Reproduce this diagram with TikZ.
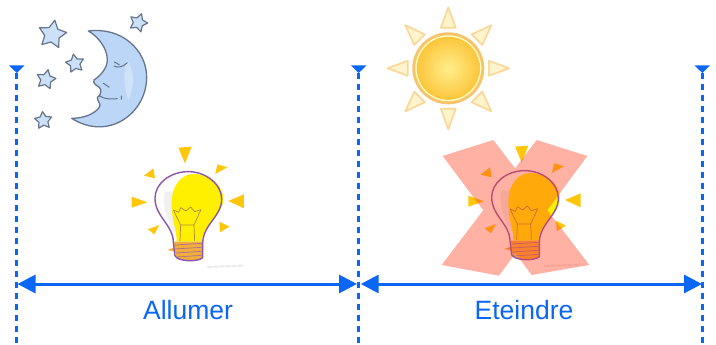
\documentclass[tikz,border=0pt]{standalone}
\usepackage{fontspec}
\setmainfont{Liberation Sans}
\usetikzlibrary{arrows.meta,shapes.geometric}
\definecolor{guide}{HTML}{0A66F5}
\definecolor{moonfill}{HTML}{BBD6F6}
\definecolor{moonedge}{HTML}{66758C}
\definecolor{rayyellow}{HTML}{FFC60A}
\definecolor{bulbyellow}{HTML}{FFF000}
\definecolor{bulbedge}{HTML}{8D55AE}
\definecolor{baseorange}{HTML}{F2AE3C}
\definecolor{filament}{HTML}{B08A40}
\definecolor{crossred}{HTML}{FF3F1C}
\definecolor{sunray}{HTML}{FFF4CC}
\definecolor{sunedge}{HTML}{FBD695}
\definecolor{sunring}{HTML}{F9C36B}
\definecolor{suncore}{HTML}{FFEE8C}
\definecolor{sunrim}{HTML}{FCC63C}
\tikzset{
  guideline/.style={guide,line width=2.7pt,dash pattern=on 6pt off 5pt},
  guidetop/.style={fill=guide,draw=none},
  span/.style={guide,line width=3pt,{Triangle[length=18pt,width=18pt]}-{Triangle[length=18pt,width=18pt]}},
  spanlabel/.style={text=guide,font=\fontsize{26.5pt}{30pt}\selectfont,inner sep=0pt},
  starnode/.style={star,star points=5,star point ratio=1.9,draw=moonedge,line width=1.2pt,line join=round,fill=moonfill!75!white,inner sep=0pt},
  ray/.style={fill=rayyellow,draw=none},
  sunrayshape/.style={fill=sunray,draw=sunedge,line width=1.6pt,line join=round}
}
\newcommand{\drawlightbulb}{%
  \fill[ray] (175,38) -- (215,35) -- (195,85) -- cycle;
  \fill[ray] (292,88) -- (322,97) -- (286,117) -- cycle;
  \fill[ray] (372,178) -- (372,220) -- (325,198) -- cycle;
  \fill[ray] (298,260) -- (328,275) -- (300,292) -- cycle;
  \fill[ray] (84,283) -- (118,270) -- (103,298) -- cycle;
  \fill[ray] (35,185) -- (82,202) -- (35,218) -- cycle;
  \fill[ray] (100,100) -- (105,130) -- (72,122) -- cycle;
  \fill[black!6] (135,170) .. controls (125,200) and (140,250) .. (160,290) -- (170,290) -- (160,170) -- cycle;
  \fill[bulbyellow] (170,320) .. controls (170,280) and (155,260) .. (155,205)
     .. controls (155,150) and (185,115) .. (225,117)
     .. controls (280,120) and (312,160) .. (310,195)
     .. controls (305,245) and (250,265) .. (245,320) -- cycle;
  \fill[baseorange] (160,320) -- (250,320) -- (248,368) -- (220,378) -- (172,372) -- (165,350) -- (142,345) -- (162,338) -- cycle;
  \draw[filament,line width=.7pt,line join=round]
     (160,225) -- (176,232) -- (182,218) -- (198,228) -- (212,216) -- (224,230) -- (243,224)
     (160,225) -- (182,270) -- (180,318)
     (243,224) -- (222,270) -- (224,318)
     (182,270) -- (222,270);
  \draw[bulbedge!70!baseorange,line width=.7pt,line join=round]
     (165,330) -- (245,325) (165,342) -- (245,337) (168,354) -- (245,349) (172,366) -- (245,361);
  \draw[bulbedge,line width=1.4pt,line join=round]
     (160,322) .. controls (160,270) and (105,245) .. (105,190)
     .. controls (105,145) and (150,112) .. (200,110)
     .. controls (260,108) and (305,150) .. (305,192)
     .. controls (305,245) and (252,265) .. (248,322)
     (160,322) -- (165,362) .. controls (172,380) and (235,382) .. (248,368) -- (248,322);
  \draw[black!8,line width=2pt,dash pattern=on 5pt off 1pt] (262,396) -- (372,392);
}
\begin{document}
\begin{tikzpicture}[x=1pt,y=-1pt]
\useasboundingbox (0,0) rectangle (716,345);
\fill[white] (0,0) rectangle (716,345);

% guides
\coordinate (t1) at (16.8,73); \coordinate (b1) at (16.8,345);
\coordinate (t2) at (358.7,73); \coordinate (b2) at (358.7,345);
\coordinate (t3) at (702.3,73); \coordinate (b3) at (702.3,345);
\foreach \g in {1,2,3}{
  \draw[guideline] (t\g) -- (b\g);
  \fill[guidetop] (t\g) -- ++(-7.7,-7.5) -- ++(15.4,0) -- cycle;
}

% spans
\coordinate (a1) at (17.5,284); \coordinate (a2) at (357,284);
\coordinate (a3) at (360.7,284); \coordinate (a4) at (702,284);
\draw[span] (a1) -- (a2);
\draw[span] (a3) -- (a4);
\node[spanlabel] (allumer) at (188,310) {Allumer};
\node[spanlabel] (eteindre) at (524,310) {Eteindre};

% moon
\begin{scope}[shift={(20,0)},x=.3333pt,y=-.3333pt]
  \path[fill=moonfill,draw=moonedge,line width=1.3pt,line join=round]
    (205,93) .. controls (305,80) and (380,150) .. (380,232)
    .. controls (380,340) and (265,425) .. (155,355)
    .. controls (195,355) and (225,340) .. (238,322)
    .. controls (245,312) and (232,305) .. (232,292)
    .. controls (245,285) and (245,268) .. (238,262)
    .. controls (228,255) and (218,250) .. (222,240)
    .. controls (240,228) and (262,205) .. (262,180)
    .. controls (262,145) and (235,110) .. (205,93) -- cycle;
  \fill[white,opacity=.3] (320,180) .. controls (345,210) and (345,260) .. (325,300) .. controls (310,260) and (310,210) .. (320,180) -- cycle;
  \draw[moonedge,line width=1pt,line cap=round]
    (282,198) .. controls (295,205) and (310,200) .. (322,188)
    (283,186) -- (298,194)
    (250,250) .. controls (258,256) and (264,258) .. (268,262)
    (238,288) .. controls (255,298) and (275,298) .. (292,296)
    (304,288) -- (304,298);
\end{scope}

% stars
\node[starnode,minimum size=29pt,rotate=-10] (s1) at (52.3,34.5) {};
\node[starnode,minimum size=19pt,rotate=10] (s2) at (75,63.5) {};
\node[starnode,minimum size=20pt,rotate=-12] (s3) at (46,79.5) {};
\node[starnode,minimum size=18pt,rotate=5] (s4) at (43.3,120.5) {};
\node[starnode,minimum size=19pt,rotate=-20] (s5) at (138.3,22.7) {};

% sun
\begin{scope}[shift={(448.3,68.3)}]
  \foreach \a in {0,45,...,315}{
    \draw[sunrayshape,rotate=\a] (61,0) -- (40.5,-7.5) -- (40.5,7.5) -- cycle;
  }
  \fill[sunring] (0,0) circle (36);
  \fill[white!75!yellow] (0,0) circle (33);
  \shade[inner color=suncore,outer color=sunrim,shading=radial] (0,0) circle (31.5);
\end{scope}

% bulbs
\begin{scope}[shift={(120,135)},x=.3333pt,y=-.3333pt]
  \drawlightbulb
\end{scope}
\begin{scope}[shift={(456.7,134)},x=.3333pt,y=-.3333pt]
  \drawlightbulb
\end{scope}

% cross: one shape, so the overlap of its bars does not darken
\begin{scope}[shift={(430,130)},x=.3333pt,y=-.3333pt,transparency group,opacity=.4]
  \fill[crossred] (38,78) -- (190,30) -- (478,405) -- (305,435) -- cycle;
  \fill[crossred] (320,30) -- (472,78) -- (207,437) -- (35,405) -- cycle;
\end{scope}
\end{tikzpicture}
\end{document}
